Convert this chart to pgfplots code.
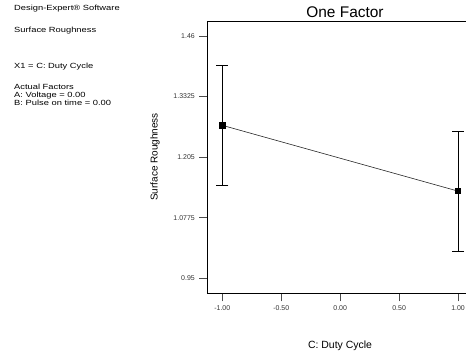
\documentclass[border=0pt]{standalone}
\usepackage{pgfplots}
\pgfplotsset{compat=1.18}
\usepackage{fontspec}
\setmainfont{Liberation Sans}
\newfontfamily\infofont[FakeStretch=1.25]{Liberation Sans}
\begin{document}
\begin{tikzpicture}[x=1bp,y=1bp]
\useasboundingbox (0,0) rectangle (466,358);
\begin{axis}[
  at={(207.3bp,64.7bp)}, anchor=south west,
  scale only axis, width=265.7bp, height=272.3bp,
  xmin=-1.127, xmax=1.127, ymin=0.9184, ymax=1.4916,
  tick pos=left, tick align=outside, major tick length=8bp,
  xtick={-1,-0.5,0,0.5,1},
  xticklabels={-1.00,-0.50,0.00,0.50,1.00},
  ytick={0.95,1.0775,1.205,1.3325,1.46},
  yticklabels={0.95,1.0775,1.205,1.3325,1.46},
  tick label style={font=\fontsize{7}{8}\selectfont, text=black!80},
  tick style={black!70, line width=0.9bp},
  axis line style={line width=0.9bp},
  yticklabel style={xshift=-1bp},
  xticklabel style={yshift=-1bp},
]
\addplot[black!85, line width=0.6bp, mark=square*, mark size=2.6bp,
  mark options={black},
  error bars/.cd, y dir=both, y explicit,
  error bar style={black, line width=0.8bp},
  error mark options={black, line width=0.8bp, mark size=6bp, rotate=90}]
  coordinates {
  (-1, 1.272) +- (0, 0.126)
  (1, 1.1335) +- (0, 0.126)
};
\end{axis}
\node[font=\fontsize{15.5}{17}\selectfont] at (345, 358-12.5) {One Factor};
\node[font=\fontsize{10.5}{12}\selectfont] at (340, 358-346) {C: Duty Cycle};
\node[font=\fontsize{10}{12}\selectfont, rotate=90] at (155, 358-157) {Surface Roughness};
\begin{scope}[every node/.style={anchor=base west, inner sep=0pt, font=\infofont\fontsize{7.5}{8}\selectfont}]
\node at (14, 358-10) {Design-Expert\textregistered{} Software};
\node at (14, 358-32) {Surface Roughness};
\node at (14, 358-68) {X1 = C: Duty Cycle};
\node at (14, 358-89) {Actual Factors};
\node at (14, 358-97) {A: Voltage = 0.00};
\node at (14, 358-105) {B: Pulse on time = 0.00};
\end{scope}
\end{tikzpicture}
\end{document}
